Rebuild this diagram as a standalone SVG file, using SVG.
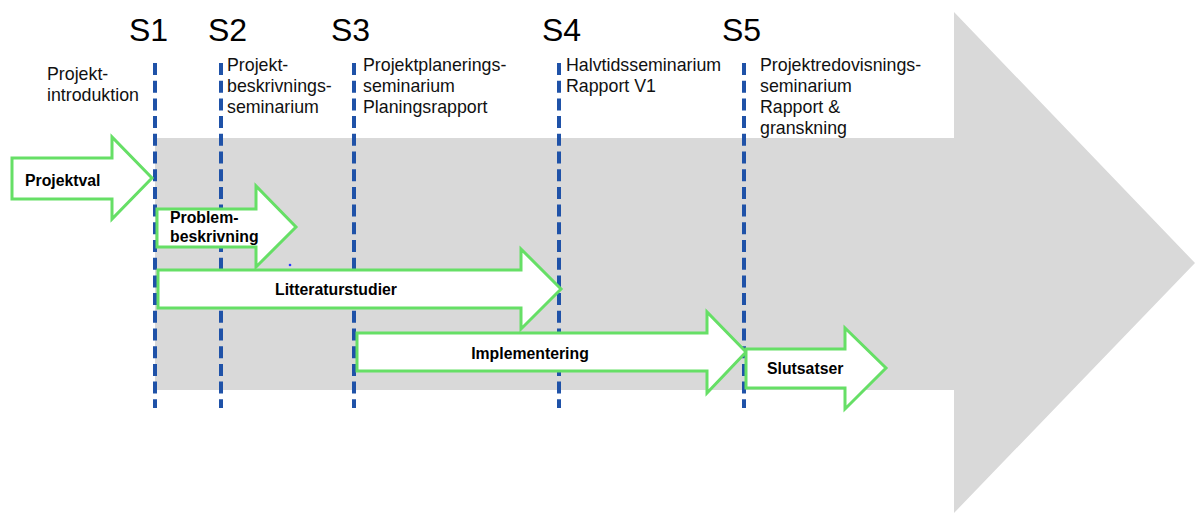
<svg xmlns="http://www.w3.org/2000/svg" width="1195" height="513" viewBox="0 0 1195 513">
  <style>
    .milestone { font-family: "Liberation Sans", Arial, sans-serif; font-size: 32px; fill: #000; }
    .note { font-family: "Liberation Sans", Arial, sans-serif; font-size: 17.8px; fill: #111; }
    .phase-label { font-family: "Liberation Sans", Arial, sans-serif; font-size: 15.8px; font-weight: bold; fill: #000; }
    .phase { fill: #ffffff; stroke: #66df66; stroke-width: 3; stroke-linejoin: miter; }
    .guide { stroke: #1f52a8; stroke-width: 4; stroke-dasharray: 12 5.7; fill: none; }
  </style>

  <rect width="1195" height="513" fill="#ffffff"/>

  <!-- Timeline backdrop arrow -->
  <g id="timeline">
    <polygon points="155,138 954,138 954,12 1195,263 954,513 954,390 155,390" fill="#d9d9d9"/>
  </g>

  <!-- Milestone headings -->
  <g id="milestone-labels">
    <text class="milestone" x="129" y="41">S1</text>
    <text class="milestone" x="208" y="41">S2</text>
    <text class="milestone" x="331" y="41">S3</text>
    <text class="milestone" x="542" y="41">S4</text>
    <text class="milestone" x="722" y="41">S5</text>
  </g>

  <!-- Seminar notes under each milestone -->
  <g id="note-intro">
    <text class="note" x="47" y="80">Projekt-</text>
    <text class="note" x="47" y="101">introduktion</text>
  </g>
  <g id="note-s2">
    <text class="note" x="227" y="71">Projekt-</text>
    <text class="note" x="227" y="92">beskrivnings-</text>
    <text class="note" x="227" y="113">seminarium</text>
  </g>
  <g id="note-s3">
    <text class="note" x="363" y="71">Projektplanerings-</text>
    <text class="note" x="363" y="92">seminarium</text>
    <text class="note" x="363" y="113">Planingsrapport</text>
  </g>
  <g id="note-s4">
    <text class="note" x="566" y="71">Halvtidsseminarium</text>
    <text class="note" x="566" y="92">Rapport V1</text>
  </g>
  <g id="note-s5">
    <text class="note" x="760" y="71">Projektredovisnings-</text>
    <text class="note" x="760" y="92">seminarium</text>
    <text class="note" x="760" y="113">Rapport &amp;</text>
    <text class="note" x="760" y="134">granskning</text>
  </g>

  <!-- Dashed milestone guides -->
  <g id="connectors">
    <line class="guide" x1="155" y1="63" x2="155" y2="408"/>
    <line class="guide" x1="221" y1="63" x2="221" y2="408"/>
    <line class="guide" x1="354" y1="63" x2="354" y2="408"/>
    <line class="guide" x1="559" y1="63" x2="559" y2="408"/>
    <line class="guide" x1="744" y1="63" x2="744" y2="408"/>
  </g>

  <!-- Project phases -->
  <g id="phase-projektval">
    <polygon class="phase" points="12,158 112,158 112,137 152,178 112,219 112,199 12,199"/>
    <text class="phase-label" x="25" y="186">Projektval</text>
  </g>
  <g id="phase-problembeskrivning">
    <polygon class="phase" points="157,209 256,209 256,186 296,227 256,267 256,247 157,247"/>
    <text class="phase-label" x="170" y="223">Problem-</text>
    <text class="phase-label" x="170" y="242">beskrivning</text>
  </g>
  <circle cx="290" cy="265" r="1.3" fill="#2a3cff"/>
  <g id="phase-litteraturstudier">
    <polygon class="phase" points="158,270 521,270 521,249 561,289 521,329 521,308 158,308"/>
    <text class="phase-label" x="336" y="295" text-anchor="middle">Litteraturstudier</text>
  </g>
  <g id="phase-implementering">
    <polygon class="phase" points="357,333 707,333 707,312 746,352 707,393 707,371 357,371"/>
    <text class="phase-label" x="530" y="359" text-anchor="middle">Implementering</text>
  </g>
  <g id="phase-slutsatser">
    <polygon class="phase" points="746,349 845,349 845,328 886,368 845,409 845,388 746,388"/>
    <text class="phase-label" x="767" y="374">Slutsatser</text>
  </g>
</svg>
